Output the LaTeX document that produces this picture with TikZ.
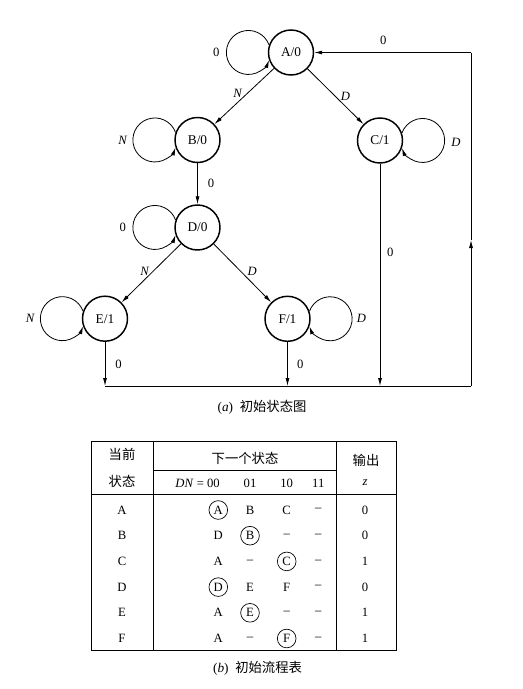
\documentclass[tikz,border=0pt]{standalone}
\usepackage{fontspec}
\setmainfont{Liberation Serif}
\newfontfamily\cjk{Noto Sans CJK SC}
\usetikzlibrary{arrows.meta}
\tikzstyle{arrow} = [->,>={Latex[length=6pt,width=3pt]}]
\tikzstyle{state} = [circle,draw,line width=1.1pt,minimum size=33.75pt,inner sep=0pt,font=\fontsize{10}{12}\selectfont]
\tikzstyle{lbl} = [inner sep=1pt]
\tikzstyle{ring} = [circle,draw,line width=0.5pt,minimum size=14pt,inner sep=0pt]

\begin{document}
\begin{tikzpicture}[x=0.75pt,y=-0.75pt,line width=0.6pt,font=\fontsize{9.5}{11}\selectfont]
	\useasboundingbox (0,0) rectangle (522,689);
	% states
	\node[state] (A) at (291,52.5) {A/0};
	\node[state] (B) at (197.5,140) {B/0};
	\node[state] (C) at (380,140.5) {C/1};
	\node[state] (D) at (197.5,227.5) {D/0};
	\node[state] (E) at (105,318.7) {E/1};
	\node[state] (F) at (287.5,318.8) {F/1};
	% self loops
	\draw[arrow] (A.161) arc[start angle=20,end angle=340,radius=16.5pt];
	\draw[arrow] (B.161) arc[start angle=20,end angle=340,radius=16.5pt];
	\draw[arrow] (C.19) arc[start angle=160,end angle=-160,radius=16.5pt];
	\draw[arrow] (D.161) arc[start angle=20,end angle=340,radius=16.5pt];
	\draw[arrow] (E.161) arc[start angle=20,end angle=340,radius=16.5pt];
	\draw[arrow] (F.19) arc[start angle=160,end angle=-160,radius=16.5pt];
	\node[lbl] (lA) at ([xshift=-56pt]A.center) {0};
	\node[lbl] (lB) at ([xshift=-56pt]B.center) {\textit{N}};
	\node[lbl] (lC) at ([xshift=57pt,yshift=-1.5pt]C.center) {\textit{D}};
	\node[lbl] (lD) at ([xshift=-56pt]D.center) {0};
	\node[lbl] (lE) at ([xshift=-56pt]E.center) {\textit{N}};
	\node[lbl] (lF) at ([xshift=55.5pt]F.center) {\textit{D}};
	% transitions
	\draw[arrow] (A) -- node[lbl,left,yshift=2pt] (eAB) {\textit{N}} (B);
	\draw[arrow] (A) -- node[lbl,right=2.7pt] (eAC) {\textit{D}} (C);
	\draw[arrow] (B) -- node[lbl,right=6.5pt] (eBD) {0} (D);
	\draw[arrow] (D) -- node[lbl,left,yshift=1.5pt] (eDE) {\textit{N}} (E);
	\draw[arrow] (D) -- node[lbl,right=2.5pt,yshift=1.5pt] (eDF) {\textit{D}} (F);
	% return to A
	\coordinate (base) at (471,386);
	\coordinate (rmid) at (471,240);
	\coordinate (rtop) at (471,52.5);
	\draw[arrow] (E) -- node[lbl,right=6.5pt] (eE0) {0} (E |- base);
	\draw[arrow] (F) -- node[lbl,right=6pt] (eF0) {0} (F |- base);
	\draw[arrow] (C) -- node[lbl,pos=0.4,right=4pt] (eC0) {0} (C |- base);
	\draw (E |- base) -- (base);
	\draw[arrow] (base) -- (rmid);
	\draw (rmid) -- (rtop);
	\draw[arrow] (rtop) -- node[lbl,pos=0.56,above=4.4pt] (eret) {0} (A);
	\node (capa) at (262,407) {\fontsize{10}{12}\selectfont(\textit{a})\ \ \cjk 初始状态图};
	% table
	\draw (91.5,441.5) rectangle (396,650.5);
	\draw (153,441.5) -- (153,650.5);
	\draw (336.7,441.5) -- (336.7,650.5);
	\draw (91.5,494.5) -- (396,494.5);
	\draw (153,470) -- (336.7,470);
	\node (hcur1) at (122,454.5) {\cjk\fontsize{10}{12}\selectfont 当前};
	\node (hcur2) at (122,481) {\cjk\fontsize{10}{12}\selectfont 状态};
	\node (hnext) at (245,458) {\cjk\fontsize{10}{12}\selectfont 下一个状态};
	\node (hout) at (366,460) {\cjk\fontsize{10}{12}\selectfont 输出};
	\node[anchor=east] (hdn) at (224.6,483) {\textit{DN} = 00};
	\node (h01) at (250,483) {01};
	\node (h10) at (286.7,483) {10};
	\node (h11) at (318.3,483) {11};
	\node (hz) at (365,483) {\textit{z}};
	\foreach \st/\ea/\eb/\ec/\ed/\zo/\kk [count=\i from 0] in {A/A/B/C/--/0/1,B/D/B/--/--/0/2,C/A/--/C/--/1/3,D/D/E/F/--/0/1,E/A/E/--/--/1/2,F/A/--/F/--/1/3}{
		\pgfmathsetmacro\ry{510+25.7*\i}
		\node (s\st) at (122,\ry) {\st};
		\node (n\st1) at (218.3,\ry) {\ea};
		\node (n\st2) at (250,\ry) {\eb};
		\node (n\st3) at (286.7,\ry) {\ec};
		\node (n\st4) at (318.3,\ry) {\ed};
		\node (z\st) at (365,\ry) {\zo};
		\node[ring] (r\st) at (n\st\kk) {};
	}
	\node (capb) at (257.5,668) {\fontsize{10}{12}\selectfont(\textit{b})\ \ \cjk 初始流程表};
\end{tikzpicture}
\end{document}
